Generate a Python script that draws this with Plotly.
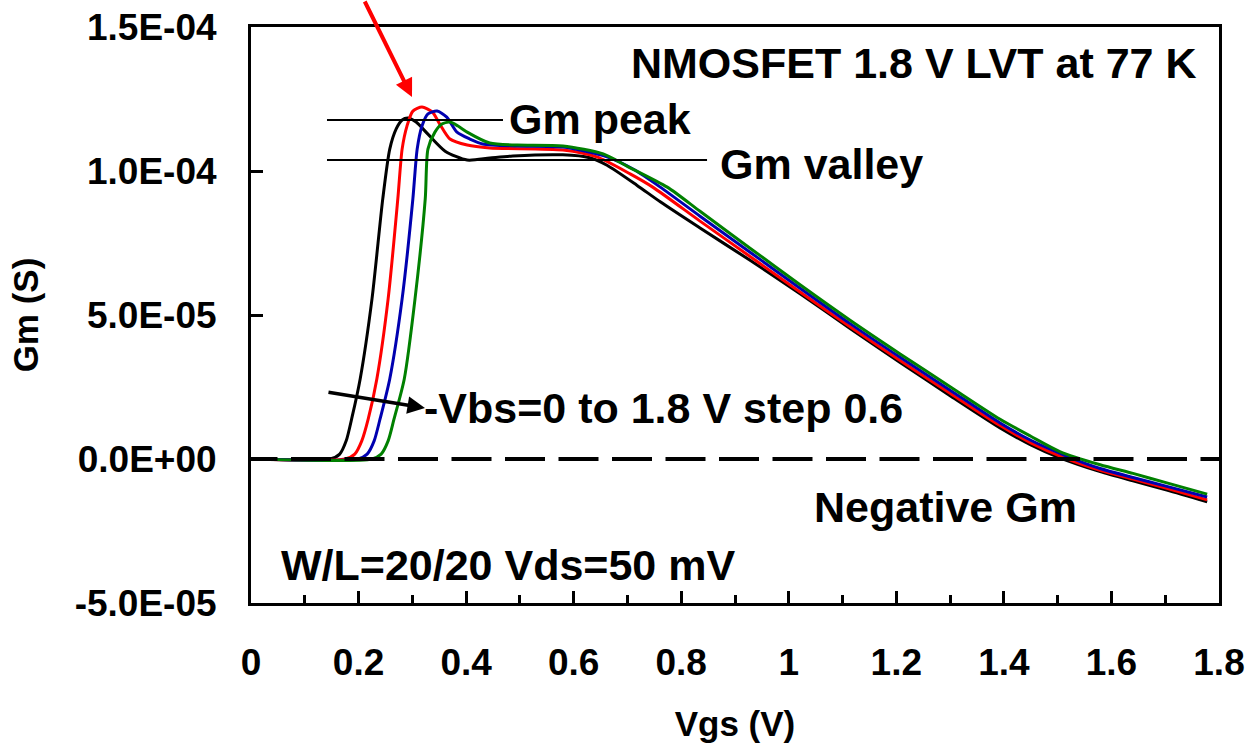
import plotly.graph_objects as go
import numpy as np

# ---------------- data (Gm in microsiemens, Vgs in volts) ----------------
vgs_black = [0.000, 0.147, 0.165, 0.177, 0.188, 0.203, 0.225, 0.245, 0.258, 0.270, 0.281, 0.292,
             0.307, 0.329, 0.361, 0.402, 0.444, 0.487, 0.580, 0.630, 0.662, 0.718, 0.761, 0.835,
             0.928, 1.021, 1.114, 1.207, 1.300, 1.393, 1.450, 1.504, 1.579, 1.640, 1.703, 1.778]
gm_black = [0, 0, 1.7, 6.3, 14.6, 27.8, 55.6, 90.3, 107.6, 114.6, 117.7, 118.4,
            117.0, 112.8, 106.9, 103.8, 104.5, 105.2, 105.6, 104.6, 102.0, 95.0, 89.3, 80.2,
            69.0, 57.4, 45.3, 33.5, 22.0, 10.8, 4.9, 0.4, -4.4, -7.6, -10.8, -14.9]

vgs_red = [0.000, 0.175, 0.193, 0.206, 0.218, 0.234, 0.255, 0.273, 0.281, 0.290, 0.301, 0.318,
           0.337, 0.351, 0.370, 0.402, 0.444, 0.580, 0.643, 0.705, 0.747, 0.835, 0.928, 1.021,
           1.114, 1.207, 1.300, 1.393, 1.450, 1.510, 1.579, 1.640, 1.703, 1.778]
gm_red = [0, 0, 1.7, 6.3, 13.9, 27.8, 55.6, 90.3, 107.6, 115.6, 120.8, 122.2,
          120.5, 116.3, 111.1, 109.0, 108.0, 107.3, 104.9, 99.0, 94.4, 82.6, 70.3, 58.0,
          45.9, 34.2, 22.8, 11.6, 5.6, 0.6, -3.9, -7.0, -10.2, -14.2]

vgs_blue = [0.000, 0.199, 0.216, 0.229, 0.240, 0.258, 0.281, 0.301, 0.309, 0.318, 0.329, 0.346,
            0.364, 0.383, 0.407, 0.431, 0.495, 0.580, 0.662, 0.712, 0.761, 0.835, 0.928, 1.021,
            1.114, 1.207, 1.300, 1.393, 1.450, 1.514, 1.579, 1.640, 1.703, 1.778]
gm_blue = [0, 0, 1.7, 6.3, 13.9, 27.8, 55.6, 90.3, 107.6, 115.6, 119.8, 120.8,
           118.7, 113.5, 111.1, 109.4, 108.7, 108.3, 104.9, 100.5, 94.4, 84.3, 71.8, 59.3,
           47.0, 35.3, 23.9, 12.5, 6.5, 1.2, -3.3, -6.4, -9.5, -13.2]

vgs_green = [0.000, 0.225, 0.242, 0.255, 0.266, 0.285, 0.305, 0.324, 0.329, 0.342, 0.355, 0.370,
             0.385, 0.402, 0.444, 0.495, 0.580, 0.655, 0.699, 0.774, 0.835, 0.928, 1.021, 1.114,
             1.207, 1.300, 1.393, 1.450, 1.504, 1.579, 1.640, 1.703, 1.778]
gm_green = [0, 0, 1.7, 6.3, 13.9, 27.8, 55.6, 90.3, 107.6, 113.5, 116.3, 117.0,
            115.6, 113.5, 109.7, 109.0, 108.7, 105.9, 101.7, 94.4, 86.0, 73.2, 60.5, 48.2,
            36.5, 25.1, 13.8, 7.9, 2.6, -2.0, -5.0, -8.3, -12.2]

series_names = ["-Vbs=0 V", "-Vbs=0.6 V", "-Vbs=1.2 V", "-Vbs=1.8 V"]
series_colors = ["#000000", "#FF0000", "#0000B0", "#008000"]

x_tick_vals = [0, 0.2, 0.4, 0.6, 0.8, 1.0, 1.2, 1.4, 1.6, 1.8]
x_tick_text = ["0", "0.2", "0.4", "0.6", "0.8", "1", "1.2", "1.4", "1.6", "1.8"]
y_tick_vals = [-5e-5, 0, 5e-5, 1e-4, 1.5e-4]
y_tick_text = ["-5.0E-05", "0.0E+00", "5.0E-05", "1.0E-04", "1.5E-04"]

gm_peak_level = 117.7     # uS
gm_valley_level = 103.8   # uS

US = 1e-6
FONT = "Liberation Sans, Arial, sans-serif"

fig = go.Figure()
for vx, gy, name, col in zip([vgs_black, vgs_red, vgs_blue, vgs_green],
                             [gm_black, gm_red, gm_blue, gm_green],
                             series_names, series_colors):
    fig.add_trace(go.Scatter(
        x=vx, y=np.array(gy) * US, mode="lines", name=name,
        line=dict(color=col, width=3, shape="spline", smoothing=0.7),
    ))

# zero reference line (dashed) and peak / valley marker lines
fig.add_shape(type="line", xref="x", yref="y", x0=-0.0251, x1=1.8, y0=0, y1=0,
              line=dict(color="black", width=4, dash="40px,13.5px"), layer="above")
fig.add_shape(type="line", xref="x", yref="y", x0=0.1413, x1=0.4686,
              y0=gm_peak_level * US, y1=gm_peak_level * US,
              line=dict(color="black", width=2), layer="above")
fig.add_shape(type="line", xref="x", yref="y", x0=0.1413, x1=0.848,
              y0=gm_valley_level * US, y1=gm_valley_level * US,
              line=dict(color="black", width=2), layer="above")

txt = dict(family=FONT, size=43, color="black", weight="bold")
ann = [
    dict(x=1.762, y=137.5 * US, text="NMOSFET 1.8 V LVT at 77 K", xanchor="right", yanchor="middle"),
    dict(x=0.4760, y=118.1 * US, text="Gm peak", xanchor="left", yanchor="middle"),
    dict(x=0.868, y=102.4 * US, text="Gm valley", xanchor="left", yanchor="middle"),
    dict(x=0.3180, y=17.7 * US, text="-Vbs=0 to 1.8 V step 0.6", xanchor="left", yanchor="middle"),
    dict(x=1.043, y=-16.7 * US, text="Negative Gm", xanchor="left", yanchor="middle"),
    dict(x=0.0525, y=-36.8 * US, text="W/L=20/20 Vds=50 mV", xanchor="left", yanchor="middle"),
]
for a in ann:
    fig.add_annotation(xref="x", yref="y", showarrow=False, font=txt, **a)

# red arrow pointing at Gm peak, black arrow for the Vbs sweep
fig.add_annotation(xref="x", yref="y", x=0.2994, y=125.7 * US, text="", showarrow=True,
                   ax=-48, ay=-102, arrowhead=2, arrowsize=0.9, arrowwidth=4,
                   arrowcolor="#FF0000", standoff=0)
fig.add_annotation(xref="x", yref="y", x=0.3235, y=17.7 * US, text="", showarrow=True,
                   ax=-98, ay=-16, arrowhead=2, arrowsize=1.0, arrowwidth=3.5,
                   arrowcolor="black", standoff=0)

axis_common = dict(showline=True, linecolor="black", linewidth=3, mirror=True,
                   showgrid=False, zeroline=False, ticks="inside", ticklen=12,
                   tickwidth=2.5, tickcolor="black")

fig.update_xaxes(range=[0, 1.8], tickvals=x_tick_vals, ticktext=x_tick_text,
                 tickfont=dict(family=FONT, size=37, color="black", weight="bold"),
                 ticklabelstandoff=25,
                 minor=dict(ticks="inside", ticklen=8, tickwidth=2.5, tickcolor="black",
                            dtick=0.1, tick0=0, showgrid=False),
                 title=dict(text="Vgs (V)", standoff=30,
                            font=dict(family=FONT, size=35, color="black", weight="bold")),
                 **axis_common)
fig.update_yaxes(range=[-5e-5, 1.5e-4], tickvals=y_tick_vals, ticktext=y_tick_text,
                 tickfont=dict(family=FONT, size=37, color="black", weight="bold"),
                 ticklabelstandoff=24,
                 title=dict(text="Gm (S)", standoff=26,
                            font=dict(family=FONT, size=35, color="black", weight="bold")),
                 **axis_common)

fig.update_layout(width=1248, height=747, margin=dict(l=251, r=29, t=27, b=144, autoexpand=False),
                  paper_bgcolor="white", plot_bgcolor="white", showlegend=False,
                  font=dict(family=FONT, color="black"))

fig.write_html("out.html")
